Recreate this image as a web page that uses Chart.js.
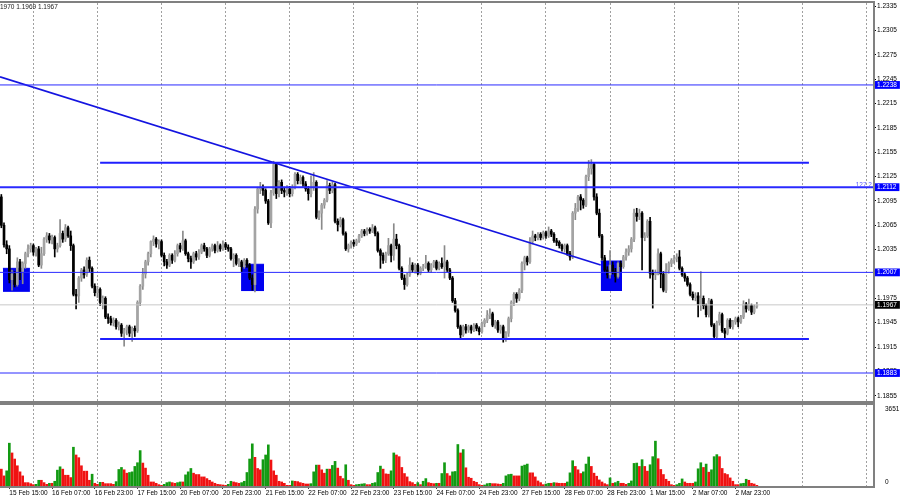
<!DOCTYPE html>
<html lang="en">
<head>
<meta charset="UTF-8">
<title>EURUSD H1</title>
<script src="https://cdn.jsdelivr.net/npm/chart.js@4.4.1/dist/chart.umd.min.js"></script>
<style>
  body { margin: 0; background: #fff; }
  #wrap { position: relative; width: 900px; height: 500px; overflow: hidden; font-family: 'Liberation Sans', Arial, sans-serif; }
  #price { position: absolute; left: 0; top: 0; }
  #vol { position: absolute; left: 0; top: 403px; }
  .txt { position: absolute; font-size: 6.5px; line-height: 8px; white-space: nowrap; }
  #head { left: 0; top: 3px; color: #202020; }
  #fibo { right: 28px; top: 181px; color: #5a5aff; }
</style>
</head>
<body>
<div id="wrap">
  <canvas id="price" width="900" height="403"></canvas>
  <canvas id="vol" width="900" height="97"></canvas>
  <div class="txt" id="head">1970 1.1969 1.1967</div>
  <div class="txt" id="fibo">127.2</div>
</div>
<script>
// one slot per H1 bar, the last ~43 slots are the empty chart shift
const SLOTS = 327;
const FIRST_LABEL = 3, LABEL_STEP = 16;
const DAY_FIRST = 12, DAY_STEP = 24;

const timeLabels = ['15 Feb 15:00', '16 Feb 07:00', '16 Feb 23:00', '17 Feb 15:00', '20 Feb 07:00', '20 Feb 23:00',
  '21 Feb 15:00', '22 Feb 07:00', '22 Feb 23:00', '23 Feb 15:00', '24 Feb 07:00', '24 Feb 23:00',
  '27 Feb 15:00', '28 Feb 07:00', '28 Feb 23:00', '1 Mar 15:00', '2 Mar 07:00', '2 Mar 23:00'];

const firstOpen = 1.2100;
const closes = [
  1.2065,1.2041,1.2036,1.1998,1.2005,1.1992,1.2020,1.2008,1.2018,1.2030,
  1.2036,1.2040,1.2032,1.2036,1.2016,1.2030,1.2048,1.2052,1.2047,1.2050,
  1.2036,1.2040,1.2055,1.2048,1.2062,1.2052,1.2040,1.1980,1.1978,1.2000,
  1.2010,1.2004,1.2022,1.2012,1.1990,1.1982,1.1986,1.1970,1.1975,1.1952,
  1.1950,1.1945,1.1948,1.1940,1.1942,1.1932,1.1936,1.1940,1.1932,1.1938,
  1.1935,1.1970,1.1990,1.2005,1.2020,1.2030,1.2045,1.2048,1.2042,1.2045,
  1.2028,1.2020,1.2016,1.2028,1.2022,1.2030,1.2040,1.2036,1.2046,1.2030,
  1.2024,1.2020,1.2030,1.2026,1.2032,1.2040,1.2036,1.2028,1.2036,1.2040,
  1.2034,1.2040,1.2036,1.2042,1.2038,1.2036,1.2024,1.2028,1.2018,1.2020,
  1.2014,1.2022,1.2016,1.2000,1.1992,1.2085,1.2110,1.2112,1.2108,1.2095,
  1.2068,1.2105,1.2140,1.2104,1.2118,1.2108,1.2106,1.2110,1.2104,1.2112,
  1.2128,1.2120,1.2124,1.2116,1.2110,1.2104,1.2112,1.2118,1.2075,1.2080,
  1.2090,1.2096,1.2114,1.2108,1.2115,1.2070,1.2066,1.2072,1.2055,1.2036,
  1.2040,1.2044,1.2042,1.2046,1.2052,1.2058,1.2055,1.2060,1.2058,1.2062,
  1.2055,1.2034,1.2028,1.2022,1.2030,1.2040,1.2028,1.2048,1.2040,1.2012,
  1.2000,1.1992,1.2004,1.2016,1.2010,1.2016,1.2006,1.2012,1.2014,1.2018,
  1.2010,1.2016,1.2020,1.2012,1.2018,1.2014,1.2020,1.2010,1.2000,1.1972,
  1.1960,1.1940,1.1930,1.1940,1.1936,1.1940,1.1936,1.1942,1.1938,1.1934,
  1.1944,1.1948,1.1954,1.1956,1.1942,1.1946,1.1936,1.1940,1.1926,1.1932,
  1.1950,1.1970,1.1980,1.1975,1.1985,1.2018,1.2025,1.2020,1.2045,1.2052,
  1.2050,1.2054,1.2050,1.2056,1.2052,1.2058,1.2054,1.2046,1.2044,1.2040,
  1.2036,1.2040,1.2030,1.2026,1.2080,1.2086,1.2100,1.2096,1.2090,1.2125,
  1.2135,1.2140,1.2100,1.2080,1.2052,1.2025,1.2010,1.2004,1.2016,1.2008,
  1.2002,1.2018,1.2014,1.2026,1.2032,1.2036,1.2048,1.2080,1.2076,1.2080,
  1.2050,1.2052,1.2070,1.2006,1.2004,1.2006,1.2030,1.2005,1.1985,1.2010,
  1.2018,1.2022,1.2024,1.2026,1.2012,1.2004,1.2000,1.1992,1.1980,1.1976,
  1.1978,1.1968,1.1975,1.1966,1.1955,1.1972,1.1942,1.1928,1.1945,1.1955,
  1.1935,1.1932,1.1948,1.1940,1.1946,1.1950,1.1946,1.1952,1.1968,1.1962,
  1.1966,1.1958,1.1965,1.1967
];
const highs = [
  1.2103,1.2068,1.2046,1.2040,1.2010,1.2008,1.2025,1.2023,1.2020,1.2032,
  1.2041,1.2043,1.2042,1.2038,1.2039,1.2038,1.2050,1.2056,1.2055,1.2053,
  1.2052,1.2043,1.2072,1.2058,1.2066,1.2064,1.2058,1.2042,1.1986,1.2002,
  1.2012,1.2014,1.2025,1.2026,1.2014,1.1993,1.1990,1.1988,1.1978,1.1977,
  1.1956,1.1953,1.1951,1.1950,1.1946,1.1944,1.1938,1.1942,1.1942,1.1940,
  1.1941,1.1972,1.1992,1.2012,1.2022,1.2032,1.2046,1.2052,1.2050,1.2047,
  1.2047,1.2031,1.2023,1.2030,1.2030,1.2034,1.2042,1.2043,1.2058,1.2048,
  1.2032,1.2027,1.2032,1.2033,1.2035,1.2042,1.2043,1.2038,1.2038,1.2042,
  1.2042,1.2045,1.2042,1.2046,1.2044,1.2041,1.2038,1.2030,1.2030,1.2024,
  1.2022,1.2024,1.2024,1.2018,1.2004,1.2088,1.2112,1.2118,1.2115,1.2110,
  1.2097,1.2108,1.2144,1.2142,1.2120,1.2121,1.2112,1.2114,1.2113,1.2115,
  1.2130,1.2130,1.2127,1.2126,1.2119,1.2113,1.2126,1.2130,1.2120,1.2083,
  1.2092,1.2098,1.2120,1.2117,1.2118,1.2117,1.2073,1.2075,1.2074,1.2057,
  1.2042,1.2046,1.2047,1.2048,1.2054,1.2060,1.2060,1.2062,1.2062,1.2066,
  1.2064,1.2057,1.2036,1.2031,1.2032,1.2049,1.2042,1.2067,1.2054,1.2042,
  1.2014,1.2004,1.2006,1.2025,1.2019,1.2018,1.2018,1.2014,1.2017,1.2028,
  1.2020,1.2018,1.2022,1.2022,1.2020,1.2025,1.2040,1.2022,1.2012,1.2002,
  1.1975,1.1962,1.1942,1.1942,1.1943,1.1942,1.1942,1.1944,1.1944,1.1940,
  1.1946,1.1950,1.1960,1.1962,1.1958,1.1948,1.1948,1.1942,1.1942,1.1934,
  1.1952,1.1972,1.1982,1.1982,1.1987,1.2020,1.2027,1.2027,1.2050,1.2058,
  1.2054,1.2056,1.2056,1.2058,1.2058,1.2063,1.2060,1.2056,1.2049,1.2046,
  1.2042,1.2042,1.2042,1.2033,1.2082,1.2092,1.2102,1.2103,1.2098,1.2127,
  1.2145,1.2146,1.2142,1.2104,1.2085,1.2054,1.2028,1.2014,1.2034,1.2020,
  1.2012,1.2020,1.2021,1.2028,1.2036,1.2040,1.2050,1.2085,1.2086,1.2085,
  1.2082,1.2056,1.2072,1.2075,1.2010,1.2010,1.2036,1.2032,1.2008,1.2018,
  1.2020,1.2024,1.2028,1.2030,1.2034,1.2014,1.2007,1.2002,1.1994,1.1983,
  1.1982,1.1982,1.2008,1.1978,1.1968,1.1975,1.1974,1.1944,1.1947,1.1958,
  1.1957,1.1938,1.1950,1.1950,1.1948,1.1952,1.1952,1.1954,1.1972,1.1970,
  1.1974,1.1968,1.1967,1.1970
];
const lows = [
  1.2062,1.2038,1.2030,1.1994,1.1985,1.1989,1.1990,1.1998,1.1993,1.2012,
  1.2026,1.2032,1.2028,1.2027,1.2014,1.2012,1.2028,1.2044,1.2043,1.2042,
  1.2026,1.2032,1.2038,1.2044,1.2045,1.2050,1.2034,1.1978,1.1962,1.1970,
  1.1996,1.2000,1.2002,1.2008,1.1988,1.1978,1.1976,1.1966,1.1962,1.1950,
  1.1944,1.1942,1.1941,1.1937,1.1936,1.1928,1.1916,1.1930,1.1928,1.1922,
  1.1928,1.1933,1.1966,1.1986,1.2000,1.2016,1.2026,1.2040,1.2038,1.2036,
  1.2026,1.2015,1.2012,1.2014,1.2018,1.2020,1.2027,1.2032,1.2034,1.2028,
  1.2020,1.2012,1.2018,1.2022,1.2023,1.2030,1.2033,1.2025,1.2026,1.2033,
  1.2031,1.2032,1.2033,1.2034,1.2035,1.2033,1.2022,1.2014,1.2016,1.2014,
  1.2008,1.2012,1.2013,1.1998,1.1985,1.1983,1.2080,1.2104,1.2102,1.2092,
  1.2066,1.2062,1.2102,1.2098,1.2100,1.2104,1.2100,1.2102,1.2100,1.2101,
  1.2110,1.2116,1.2116,1.2113,1.2107,1.2096,1.2100,1.2108,1.2073,1.2072,
  1.2060,1.2086,1.2094,1.2104,1.2105,1.2068,1.2058,1.2063,1.2053,1.2034,
  1.2032,1.2037,1.2039,1.2040,1.2044,1.2050,1.2052,1.2053,1.2055,1.2056,
  1.2052,1.2032,1.2012,1.2018,1.2019,1.2028,1.2020,1.2022,1.2036,1.2010,
  1.1998,1.1986,1.1990,1.2002,1.2007,1.2006,1.2004,1.2004,1.2009,1.2012,
  1.2008,1.2007,1.2013,1.2010,1.2010,1.2012,1.2000,1.2008,1.1998,1.1970,
  1.1958,1.1938,1.1925,1.1928,1.1932,1.1933,1.1932,1.1934,1.1935,1.1930,
  1.1932,1.1940,1.1945,1.1950,1.1940,1.1938,1.1933,1.1932,1.1921,1.1922,
  1.1928,1.1946,1.1966,1.1970,1.1972,1.1982,1.2010,1.2016,1.2018,1.2042,
  1.2046,1.2047,1.2047,1.2048,1.2049,1.2050,1.2051,1.2044,1.2040,1.2037,
  1.2033,1.2032,1.2028,1.2022,1.2024,1.2072,1.2082,1.2084,1.2086,1.2088,
  1.2120,1.2128,1.2096,1.2078,1.2050,1.2022,1.2008,1.2000,1.2000,1.2005,
  1.1995,1.2000,1.2008,1.2012,1.2022,1.2028,1.2032,1.2045,1.2070,1.2072,
  1.2010,1.2046,1.2050,1.2000,1.1963,1.1998,1.2004,1.1988,1.1983,1.1982,
  1.2006,1.2014,1.2018,1.2020,1.2010,1.2002,1.1996,1.1990,1.1978,1.1973,
  1.1972,1.1952,1.1960,1.1962,1.1952,1.1952,1.1940,1.1924,1.1926,1.1942,
  1.1933,1.1925,1.1930,1.1938,1.1937,1.1943,1.1940,1.1944,1.1950,1.1958,
  1.1960,1.1955,1.1956,1.1963
];
const volumes = [
  760,456,684,1930,1490,1216,912,638,456,152,
  152,106,61,76,258,258,152,76,122,122,
  213,714,866,760,486,486,380,1748,1398,1277,
  912,669,669,258,532,122,76,167,167,106,
  106,106,76,198,745,836,730,578,608,638,
  882,1049,1596,1034,806,486,182,182,122,61,
  30,76,152,182,152,122,152,182,182,502,
  638,790,578,517,517,410,410,334,258,182,
  122,76,61,46,30,76,213,182,152,122,
  152,213,608,1216,1900,1292,790,730,1186,1398,
  1854,1170,684,486,213,182,122,30,30,228,
  213,198,152,122,91,91,106,638,942,942,
  730,578,760,760,927,1110,806,441,334,958,
  258,61,30,61,76,91,106,61,61,122,
  152,608,897,760,547,532,684,1490,1398,1322,
  836,562,410,198,152,76,152,61,213,334,
  152,122,106,122,122,562,1049,562,456,638,
  654,1870,1490,1642,821,395,350,213,167,61,
  30,46,106,122,106,106,91,76,122,456,
  517,532,456,456,456,897,942,988,593,593,
  410,228,152,61,91,122,122,152,137,122,
  122,122,182,593,1140,882,730,562,638,988,
  1307,882,578,441,274,182,106,61,365,122,
  152,213,122,122,76,122,228,1018,1034,882,
  1186,882,669,958,1322,2022,1231,745,517,304,
  213,61,30,61,122,319,182,122,122,122,
  182,775,1049,836,988,623,730,1322,1414,1322,
  790,562,517,365,213,61,61,106,122,304,
  258,122,91,30
];
const volMax = 3651;

const priceTicks = [1.2335, 1.2305, 1.2275, 1.2245, 1.2215, 1.2185, 1.2155, 1.2125, 1.2095,
  1.2065, 1.2035, 1.2005, 1.1975, 1.1945, 1.1915, 1.1885, 1.1855];
const levels = [1.2238, 1.2112, 1.2007, 1.1883];
const channel = [1.2142, 1.1925];
const channelBars = [37, 302.5];
const trend = [{ x: -0.5, y: 1.2248 }, { x: 224.5, y: 1.2016 }];
// [from bar, to bar, top, bottom]
const zones = [
  [0.6, 10.7, 1.2012, 1.1983],
  [89.8, 98.4, 1.2017, 1.1984],
  [224.5, 232.5, 1.2021, 1.1984]
];
const lastPrice = closes[closes.length - 1];

const opens = closes.map((c, i) => i === 0 ? firstOpen : closes[i - 1]);
const slots = Array.from({ length: SLOTS }, (_, i) => i);

const BULL = '#a4a4a4', BEAR = '#000000';
const BLUE = '#2a2aff', ZONE = '#0000f0';
const GRID = '#a0a0a0';
const FONT = { family: "'Liberation Sans', Arial, sans-serif", size: 6.5 };

function tickText(i) {
  const k = (i - FIRST_LABEL) / LABEL_STEP;
  return Number.isInteger(k) && k >= 0 && k < timeLabels.length ? timeLabels[k] : '';
}
function isDay(i) { return i >= DAY_FIRST && (i - DAY_FIRST) % DAY_STEP === 0; }
const bull = i => closes[i] >= opens[i];
// keep the plot area exactly where layout.padding puts it
const noPad = s => { s.paddingTop = 0; s.paddingBottom = 0; s.paddingLeft = 0; s.paddingRight = 0; };

function hline(y, x0, x1, width, color) {
  return {
    type: 'line', xAxisID: 'xl', data: [{ x: x0, y }, { x: x1, y }],
    borderColor: color, borderWidth: width, pointRadius: 0, order: 1
  };
}

const frame = {
  id: 'frame',
  afterDraw(chart) {
    const { ctx, chartArea: a } = chart;
    ctx.save();
    ctx.strokeStyle = '#808080';
    ctx.lineWidth = 2;
    ctx.beginPath();
    ctx.moveTo(0, a.top - 1); ctx.lineTo(a.right + 1, a.top - 1);
    ctx.lineTo(a.right + 1, a.bottom + 1); ctx.lineTo(0, a.bottom + 1);
    ctx.stroke();
    ctx.restore();
  }
};

const xDays = {
  type: 'category', offset: true,
  grid: { offset: false, color: c => isDay(c.index) ? GRID : 'transparent', drawTicks: false },
  border: { display: false, dash: [2, 2] },
  ticks: { display: false }
};

new Chart(document.getElementById('price'), {
  type: 'bar',
  data: {
    labels: slots,
    datasets: [
      ...zones.map(z => ({
        type: 'line', xAxisID: 'xl', data: [{ x: z[0], y: z[2] }, { x: z[1], y: z[2] }],
        fill: { value: z[3] }, backgroundColor: ZONE, borderColor: ZONE, borderWidth: 1,
        pointRadius: 0, order: 9
      })),
      {
        label: 'wicks', data: lows.map((l, i) => [l, highs[i]]),
        backgroundColor: c => bull(c.dataIndex) ? '#8a8a8a' : BEAR,
        barThickness: 1, grouped: false, order: 4
      },
      {
        label: 'bodies', data: opens.map((o, i) => [o, closes[i]]),
        backgroundColor: c => bull(c.dataIndex) ? BULL : BEAR,
        barThickness: 2, minBarLength: 1, grouped: false, order: 3
      },
      hline(lastPrice, -0.5, SLOTS - 0.5, 1, '#c8c8c8'),
      hline(levels[0], -0.5, SLOTS - 0.5, 1, BLUE),
      hline(levels[1], -0.5, SLOTS - 0.5, 2, BLUE),
      hline(levels[2], -0.5, SLOTS - 0.5, 1, BLUE),
      hline(levels[3], -0.5, SLOTS - 0.5, 1, BLUE),
      hline(channel[0], channelBars[0], channelBars[1], 2, '#1f1fff'),
      hline(channel[1], channelBars[0], channelBars[1], 2, '#1f1fff'),
      { type: 'line', xAxisID: 'xl', data: trend, borderColor: '#1414e0', borderWidth: 1.6, pointRadius: 0, order: 1 }
    ]
  },
  options: {
    responsive: false, animation: false,
    layout: { padding: { top: 3, bottom: 2, left: 0, right: 0 } },
    plugins: { legend: { display: false }, tooltip: { enabled: false } },
    scales: {
      x: { ...xDays, afterFit: s => { s.height = 0; noPad(s); } },
      xl: { type: 'linear', display: false, offset: false, grid: { offset: false }, min: -0.5, max: SLOTS - 0.5 },
      y: {
        position: 'right', min: 1.18485, max: 1.2339, bounds: 'data',
        afterBuildTicks: s => {
          s.ticks = [...priceTicks, ...levels, lastPrice].map(v => ({ value: v }));
        },
        afterFit: s => { s.width = 27; noPad(s); },
        grid: { drawOnChartArea: false, tickLength: 3, tickColor: '#000' },
        border: { display: false },
        ticks: {
          autoSkip: false, padding: 1, font: FONT,
          callback: v => Number(v).toFixed(4),
          color: c => (levels.includes(c.tick.value) || c.tick.value === lastPrice) ? '#ffffff' : '#000000',
          showLabelBackdrop: c => levels.includes(c.tick.value) || c.tick.value === lastPrice,
          backdropColor: c => c.tick.value === lastPrice ? '#000000' : '#0000ff',
          backdropPadding: { top: 0, bottom: 0, left: 3, right: 3 }
        }
      }
    }
  },
  plugins: [frame]
});

new Chart(document.getElementById('vol'), {
  type: 'bar',
  data: {
    labels: slots,
    datasets: [{
      label: 'Volumes', data: volumes,
      backgroundColor: c => c.dataIndex > 0 && volumes[c.dataIndex] > volumes[c.dataIndex - 1] ? '#129a12' : '#f01212',
      barThickness: 2
    }]
  },
  options: {
    responsive: false, animation: false,
    layout: { padding: { top: 2, bottom: 0, left: 0, right: 0 } },
    plugins: { legend: { display: false }, tooltip: { enabled: false } },
    scales: {
      x: {
        ...xDays,
        grid: {
          offset: false, color: c => isDay(c.index) ? GRID : 'transparent',
          drawTicks: true, tickLength: 3, tickColor: c => tickText(c.index) ? '#404040' : 'transparent'
        },
        ticks: {
          display: true, autoSkip: false, maxRotation: 0, minRotation: 0, align: 'start',
          padding: 0, font: FONT, color: '#000', callback: (v, i) => tickText(i)
        },
        afterFit: s => { s.height = 14; noPad(s); }
      },
      y: {
        position: 'right', min: 0, max: volMax, bounds: 'data',
        afterBuildTicks: s => { s.ticks = [0, volMax].map(v => ({ value: v })); },
        afterFit: s => { s.width = 27; noPad(s); },
        grid: { display: false },
        border: { display: false },
        // MT4 prints the window max just below the top and the 0 just above the bottom
        ticks: {
          autoSkip: false, padding: 4, font: FONT, color: '#000',
          callback: v => v === 0 ? ['0', ''] : ['', String(v)]
        }
      }
    }
  },
  plugins: [frame]
});
</script>
</body>
</html>
